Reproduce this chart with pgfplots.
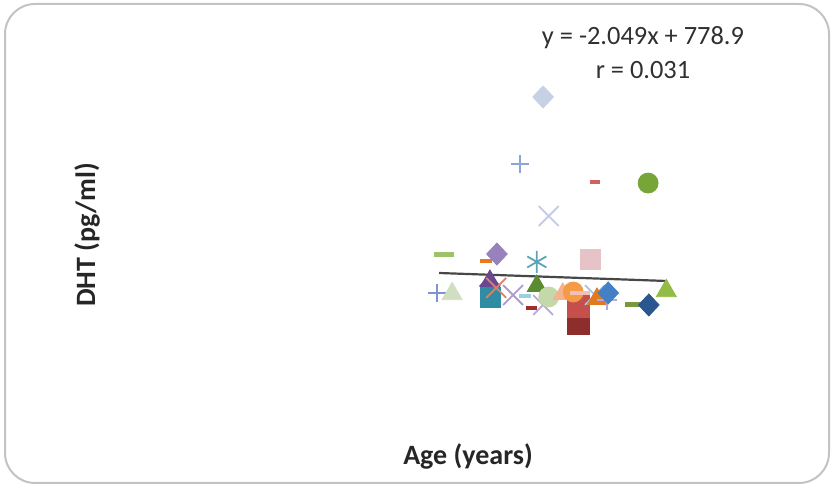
\documentclass[border=0pt]{standalone}
\usepackage{fontspec}
\setmainfont{Carlito}
\usepackage{pgfplots}
\pgfplotsset{compat=1.18}

% marker colours, one per subject
\definecolor{c1}{HTML}{C6D1E6}
\definecolor{c2}{HTML}{8EA6D6}
\definecolor{c3}{HTML}{D35F5F}
\definecolor{c4}{HTML}{77A538}
\definecolor{c5}{HTML}{C5CBE6}
\definecolor{c6}{HTML}{9DC26A}
\definecolor{c7}{HTML}{E9781F}
\definecolor{c8}{HTML}{9882BC}
\definecolor{c9}{HTML}{5DA3B7}
\definecolor{c10}{HTML}{E5C3C7}
\definecolor{c11}{HTML}{6A4791}
\definecolor{c11b}{HTML}{7558A0}
\definecolor{c12}{HTML}{7F93CD}
\definecolor{c13}{HTML}{CFDFC0}
\definecolor{c14}{HTML}{2E8CA3}
\definecolor{c15}{HTML}{D9806F}
\definecolor{c16}{HTML}{AC9BD3}
\definecolor{c17}{HTML}{9AD0E0}
\definecolor{c18}{HTML}{5A8B30}
\definecolor{c19}{HTML}{A52A2A}
\definecolor{c20}{HTML}{B8A8DA}
\definecolor{c21}{HTML}{C5D8A9}
\definecolor{c22}{HTML}{F6B28C}
\definecolor{c23}{HTML}{F59A45}
\definecolor{c24}{HTML}{F2C0B8}
\definecolor{c25}{HTML}{C44F4B}
\definecolor{c26}{HTML}{8E2E2C}
\definecolor{c27}{HTML}{A8C2E6}
\definecolor{c28}{HTML}{E07A1F}
\definecolor{c29}{HTML}{4480C6}
\definecolor{c30}{HTML}{79993E}
\definecolor{c31}{HTML}{2B5790}
\definecolor{c32}{HTML}{92BC45}
\definecolor{c33}{HTML}{B6A9DA}
\definecolor{framegray}{HTML}{C3C3C3}
\definecolor{txt}{HTML}{303030}

% one subject = one marker
\newcommand{\subject}[4]{%
  \addplot[only marks, mark=#1, color=#2, mark options={solid, fill=#2}, #3] coordinates {#4};}
\pgfplotsset{dia/.style={mark size=5.5pt, mark options={solid, xscale=1.25}}}

\begin{document}
\begin{tikzpicture}
\path[use as bounding box] (0,0) rectangle (416pt,243pt);
\draw[framegray, line width=1pt, rounded corners=15pt] (2.5pt,1.5pt) rectangle (414.5pt,241pt);

\begin{axis}[
  at={(0,0)}, anchor=south west,
  scale only axis, width=416pt, height=243pt,
  axis lines=none, ticks=none, clip=false,
  xmin=-14.29, xmax=104.57,
  ymin=-1097, ymax=2957,
]
% markers: age (years), DHT (pg/ml)
\subject{diamond*}{c1}{dia}{(63.3,2148)}
\subject{+}{c2}{mark size=4.5pt, line width=0.8pt}{(60.0,1589)}
\subject{-}{c3}{mark size=2.7pt, line width=2pt}{(70.7,1439)}
\subject{*}{c4}{mark size=5pt}{(78.3,1430)}
\subject{x}{c5}{mark size=7pt, line width=0.9pt}{(64.1,1155)}
\subject{-}{c6}{mark size=5pt, line width=2.5pt}{(49.1,838)}
\subject{-}{c7}{mark size=3pt, line width=2pt}{(55.1,780)}
\subject{diamond*}{c8}{dia}{(56.7,838)}
\subject{asterisk}{c9}{mark size=5.5pt, line width=0.9pt}{(62.4,772)}
\subject{square*}{c10}{mark size=5pt}{(70.0,797)}
\subject{diamond*}{c11b}{dia}{(55.7,572)}
\subject{triangle*}{c11}{mark size=5.5pt}{(55.7,613)}
\subject{+}{c12}{mark size=4.5pt, line width=0.9pt}{(48.1,513)}
\subject{triangle*}{c13}{mark size=5.8pt}{(50.3,505)}
\subject{square*}{c14}{mark size=5pt}{(55.7,480)}
\subject{x}{c15}{mark size=7pt, line width=0.9pt}{(56.6,555)}
\subject{x}{c16}{mark size=7pt, line width=0.9pt}{(59.0,496)}
\subject{-}{c17}{mark size=3pt, line width=2pt}{(60.7,488)}
\subject{triangle*}{c18}{mark size=5.5pt}{(62.4,572)}
\subject{-}{c19}{mark size=2.8pt, line width=2pt}{(61.6,388)}
\subject{x}{c20}{mark size=7pt, line width=0.9pt}{(63.3,413)}
\subject{*}{c21}{mark size=5pt}{(64.1,480)}
\subject{triangle*}{c22}{mark size=5.5pt}{(66.1,505)}
\subject{square*}{c26}{mark size=5.5pt}{(68.4,263)}
\subject{square*}{c25}{mark size=5.5pt}{(68.4,405)}
\subject{*}{c23}{mark size=5pt}{(67.6,521)}
\subject{-}{c24}{mark size=5pt, line width=2pt}{(68.6,513)}
\subject{x}{c27}{mark size=7pt, line width=0.9pt}{(70.7,496)}
\subject{triangle*}{c28}{mark size=5.5pt}{(71.0,463)}
\subject{+}{c33}{mark size=5pt, line width=0.9pt}{(72.4,455)}
\subject{diamond*}{c29}{dia}{(72.6,513)}
\subject{-}{c30}{mark size=5pt, line width=2.5pt}{(76.4,421)}
\subject{diamond*}{c31}{dia}{(78.4,413)}
\subject{triangle*}{c32}{mark size=5.8pt}{(80.9,530)}

% linear trend, y = -2.049x + 778.9, over the sampled ages
\addplot[black!72, line width=1.1pt] coordinates {(48.43,679.7) (81.0,612.9)};
\end{axis}

\node[txt, font=\fontsize{13.2}{15}\selectfont] at (321.5pt,224pt) {y = -2.049x + 778.9};
\node[txt, font=\fontsize{13.2}{15}\selectfont] at (321.5pt,208pt) {r = 0.031};
\node[black!85, font=\fontsize{14}{16}\selectfont\bfseries, rotate=90] at (43.5pt,125.5pt) {DHT (pg/ml)};
\node[black!85, font=\fontsize{14}{16}\selectfont\bfseries] at (234pt,15pt) {Age (years)};
\end{tikzpicture}
\end{document}
